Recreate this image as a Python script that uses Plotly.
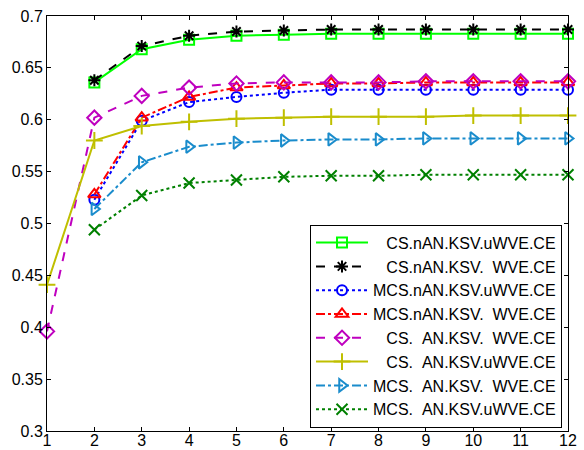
import plotly.graph_objects as go

# x positions
x_vals = list(range(1, 13))

# series values (None where a series has no point)
cs_nan_ksv_uwve = [None, 0.636, 0.668, 0.677, 0.681, 0.682, 0.683, 0.683, 0.683, 0.683, 0.683, 0.683]
cs_nan_ksv_wve = [None, 0.638, 0.671, 0.681, 0.685, 0.686, 0.687, 0.687, 0.687, 0.687, 0.687, 0.687]
mcs_nan_ksv_uwve = [None, 0.523, 0.599, 0.617, 0.622, 0.626, 0.629, 0.629, 0.629, 0.629, 0.629, 0.629]
mcs_nan_ksv_wve = [None, 0.528, 0.602, 0.622, 0.631, 0.633, 0.635, 0.635, 0.636, 0.636, 0.636, 0.636]
cs_an_ksv_wve = [0.396, 0.602, 0.623, 0.631, 0.635, 0.636, 0.636, 0.636, 0.637, 0.637, 0.637, 0.637]
cs_an_ksv_uwve = [0.441, 0.580, 0.594, 0.598, 0.601, 0.602, 0.603, 0.603, 0.603, 0.604, 0.604, 0.604]
mcs_an_ksv_wve = [None, 0.514, 0.559, 0.574, 0.578, 0.580, 0.581, 0.581, 0.582, 0.582, 0.582, 0.582]
mcs_an_ksv_uwve = [None, 0.494, 0.527, 0.539, 0.542, 0.545, 0.546, 0.546, 0.547, 0.547, 0.547, 0.547]

# series names (non-breaking spaces keep the column alignment)
NB = "\u00a0"
names = [
    NB * 3 + "CS.nAN.KSV.uWVE.CE",
    NB * 3 + "CS.nAN.KSV." + NB * 2 + "WVE.CE",
    "MCS.nAN.KSV.uWVE.CE",
    "MCS.nAN.KSV." + NB * 2 + "WVE.CE",
    NB * 3 + "CS." + NB * 2 + "AN.KSV." + NB * 2 + "WVE.CE",
    NB * 3 + "CS." + NB * 2 + "AN.KSV.uWVE.CE",
    "MCS." + NB * 2 + "AN.KSV." + NB * 2 + "WVE.CE",
    "MCS." + NB * 2 + "AN.KSV.uWVE.CE",
]

# y tick values and labels
y_ticks = [0.3, 0.35, 0.4, 0.45, 0.5, 0.55, 0.6, 0.65, 0.7]
y_tick_labels = ["0.3", "0.35", "0.4", "0.45", "0.5", "0.55", "0.6", "0.65", "0.7"]

series = [cs_nan_ksv_uwve, cs_nan_ksv_wve, mcs_nan_ksv_uwve, mcs_nan_ksv_wve,
          cs_an_ksv_wve, cs_an_ksv_uwve, mcs_an_ksv_wve, mcs_an_ksv_uwve]

styles = [
    ("#00ff00", "solid", "square-open", 10),
    ("#000000", "dash", "asterisk-open", 10),
    ("#0000ff", "dot", "circle-open", 10),
    ("#ff0000", "dashdot", "triangle-up-open", 11),
    ("#bf00bf", "dash", "diamond-open", 11),
    ("#bfbf00", "solid", "cross-thin-open", 12),
    ("#1a8ccc", "dashdot", "triangle-right-open", 11),
    ("#008000", "dot", "x-thin-open", 11),
]

fig = go.Figure()
for name, ys, (color, dash, symbol, size) in zip(names, series, styles):
    fig.add_trace(go.Scatter(
        x=x_vals, y=ys, name=name, mode="lines+markers",
        connectgaps=False, cliponaxis=False,
        line=dict(color=color, width=2, dash=dash),
        marker=dict(symbol=symbol, size=size, color=color,
                    line=dict(color=color, width=2)),
    ))

axis_common = dict(
    showline=True, linecolor="black", linewidth=1, mirror="ticks",
    ticks="inside", ticklen=4, tickcolor="black", tickwidth=1,
    showgrid=False, zeroline=False, automargin=False,
    tickfont=dict(family="Liberation Sans, Arial, sans-serif", size=16, color="black"),
)

fig.update_layout(
    width=584, height=450,
    margin=dict(l=47, r=16, t=16, b=19),
    paper_bgcolor="white", plot_bgcolor="white",
    showlegend=True,
    legend=dict(
        x=0.9885, y=0.008, xanchor="right", yanchor="bottom",
        bgcolor="white", bordercolor="black", borderwidth=1,
        font=dict(family="Liberation Sans, Arial, sans-serif", size=16, color="black"),
        tracegroupgap=0, itemwidth=52,
    ),
    xaxis=dict(range=[1, 12], tickvals=x_vals, ticktext=[str(v) for v in x_vals],
               ticklabelstandoff=-5, **axis_common),
    yaxis=dict(range=[0.3, 0.7], tickvals=y_ticks, ticktext=y_tick_labels, **axis_common),
)

fig.write_html("out.html")
